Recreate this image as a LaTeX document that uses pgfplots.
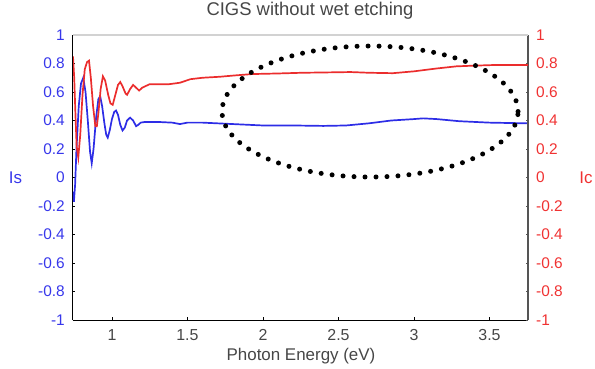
\documentclass[border=0pt]{standalone}
\usepackage{pgfplots}
\pgfplotsset{compat=1.18}
\usepackage{fontspec}
\setmainfont{Liberation Sans}
\definecolor{cblue}{RGB}{45,45,230}
\definecolor{cred}{RGB}{235,45,45}
\definecolor{tblue}{RGB}{55,55,235}
\definecolor{tred}{RGB}{240,50,50}
\definecolor{tgrey}{RGB}{70,70,70}
\definecolor{rgrey}{RGB}{85,85,85}

\pgfplotstableread{
x y
0.742 -0.10
0.748 -0.17
0.756 -0.05
0.765 0.20
0.780 0.50
0.795 0.66
0.810 0.70
0.825 0.60
0.840 0.40
0.855 0.18
0.866 0.10
0.878 0.20
0.895 0.42
0.910 0.55
0.922 0.57
0.935 0.50
0.950 0.38
0.962 0.30
0.972 0.28
0.985 0.33
1.000 0.41
1.015 0.46
1.027 0.47
1.040 0.44
1.055 0.37
1.070 0.33
1.085 0.35
1.100 0.40
1.120 0.42
1.140 0.40
1.160 0.36
1.175 0.37
1.190 0.385
1.220 0.39
1.300 0.39
1.400 0.385
1.450 0.375
1.500 0.385
1.600 0.385
1.700 0.38
1.800 0.375
1.900 0.37
2.000 0.365
2.200 0.365
2.400 0.362
2.550 0.365
2.700 0.38
2.850 0.40
3.000 0.41
3.060 0.415
3.150 0.41
3.300 0.395
3.500 0.385
3.755 0.38
}\isdata

\pgfplotstableread{
x y
0.742 0.85
0.750 0.70
0.758 0.45
0.766 0.22
0.777 0.14
0.790 0.30
0.805 0.58
0.820 0.76
0.835 0.81
0.848 0.82
0.860 0.70
0.875 0.50
0.890 0.36
0.900 0.36
0.910 0.45
0.925 0.62
0.940 0.71
0.955 0.68
0.975 0.58
0.990 0.52
1.005 0.51
1.020 0.57
1.040 0.65
1.055 0.67
1.070 0.64
1.090 0.59
1.100 0.58
1.120 0.62
1.140 0.65
1.160 0.63
1.180 0.61
1.200 0.63
1.250 0.655
1.300 0.655
1.380 0.655
1.450 0.665
1.520 0.69
1.600 0.70
1.715 0.707
1.800 0.715
1.930 0.726
2.100 0.73
2.260 0.735
2.400 0.737
2.580 0.74
2.700 0.735
2.860 0.732
3.000 0.745
3.150 0.765
3.280 0.78
3.400 0.785
3.550 0.79
3.755 0.79
}\icdata

\begin{document}
\begin{tikzpicture}
\useasboundingbox (-73bp,-49bp) rectangle (522bp,320bp);
\begin{axis}[
  at={(0,0)}, anchor=south west,
  scale only axis, width=455bp, height=285bp,
  xmin=0.742, xmax=3.755, ymin=-1, ymax=1,
  axis y line*=left, axis x line*=bottom,
  axis line style={black, line width=1bp, -},
  xtick={1,1.5,2,2.5,3,3.5},
  xticklabels={1,1.5,2,2.5,3,3.5},
  ytick={-1,-0.8,-0.6,-0.4,-0.2,0,0.2,0.4,0.6,0.8,1},
  yticklabels={-1,-0.8,-0.6,-0.4,-0.2,0,0.2,0.4,0.6,0.8,1},
  yticklabel style={text=tblue, font=\fontsize{15.5}{15.5}\selectfont, anchor=east, inner sep=0pt, xshift=-8bp},
  xticklabel style={text=tgrey, font=\fontsize{16}{16}\selectfont, anchor=center, inner sep=0pt, yshift=-15bp},
  tick style={black, line width=0.5bp},
  major tick length=2.5bp,
  /pgf/number format/assume math mode=true,
]
\addplot[cblue, line width=1.7bp] table[x=x,y=y]{\isdata};
\end{axis}
\begin{axis}[
  at={(0,0)}, anchor=south west,
  scale only axis, width=455bp, height=285bp,
  xmin=0.742, xmax=3.755, ymin=-1, ymax=1,
  axis y line*=right, axis x line=none,
  axis line style={rgrey, line width=1.1bp, -},
  ytick={-1,-0.8,-0.6,-0.4,-0.2,0,0.2,0.4,0.6,0.8,1},
  yticklabels={-1,-0.8,-0.6,-0.4,-0.2,0,0.2,0.4,0.6,0.8,1},
  yticklabel style={text=tred, font=\fontsize{15.5}{15.5}\selectfont, anchor=west, inner sep=0pt, xshift=8bp},
  tick style={rgrey, line width=0.5bp},
  major tick length=2.5bp,
  /pgf/number format/assume math mode=true,
]
\addplot[cred, line width=1.7bp] table[x=x,y=y]{\icdata};
\draw[black, line width=5bp, line cap=round, dash pattern=on 0pt off 11bp]
  (axis cs:2.709,0.463) ellipse [x radius=148bp, y radius=65.5bp];
\end{axis}
\draw[gray!35, line width=1.2bp] (0,285bp) -- (455bp,285bp);
\node[text=tgrey, font=\fontsize{18.5}{18.5}\selectfont] at (237bp,309bp) {CIGS without wet etching};
\node[text=tgrey, font=\fontsize{17}{17}\selectfont] at (228bp,-36bp) {Photon Energy (eV)};
\node[text=tblue, font=\fontsize{17}{17}\selectfont] at (-57.5bp,142.5bp) {Is};
\node[text=tred, font=\fontsize{17}{17}\selectfont] at (513bp,142.5bp) {Ic};
\end{tikzpicture}
\end{document}
